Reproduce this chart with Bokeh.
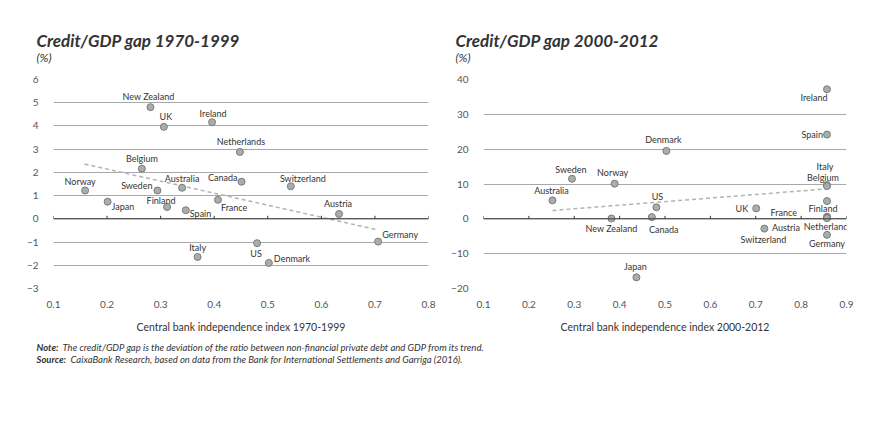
from bokeh.plotting import figure
from bokeh.models import Range1d, Label, FixedTicker, ColumnDataSource, Span
from bokeh.layouts import column, row
from bokeh.embed import file_html
from bokeh.resources import INLINE

# ---------------- data: 1970-1999 ----------------
countries_7099 = ["Norway", "Japan", "New Zealand", "UK", "Belgium", "Sweden", "Finland",
                  "Australia", "Spain", "Italy", "Ireland", "France", "Netherlands", "Canada",
                  "US", "Denmark", "Switzerland", "Austria", "Germany"]
cbi_7099 = [0.159, 0.201, 0.281, 0.306, 0.265, 0.294, 0.312,
            0.340, 0.347, 0.369, 0.396, 0.407, 0.448, 0.451,
            0.480, 0.502, 0.543, 0.633, 0.706]
gap_7099 = [1.22, 0.74, 4.81, 3.96, 2.16, 1.22, 0.51,
            1.34, 0.37, -1.64, 4.16, 0.82, 2.88, 1.60,
            -1.05, -1.90, 1.40, 0.21, -0.98]
trend_x_7099 = [0.158, 0.706]
trend_y_7099 = [2.36, -0.48]
x_ticks_7099 = [0.1, 0.2, 0.3, 0.4, 0.5, 0.6, 0.7, 0.8]
y_ticks_7099 = [-3, -2, -1, 0, 1, 2, 3, 4, 5, 6]

# ---------------- data: 2000-2012 ----------------
countries_0012 = ["Australia", "Sweden", "Norway", "New Zealand", "Japan", "US", "Canada",
                  "Denmark", "UK", "Switzerland", "Ireland", "Spain", "Italy", "Belgium",
                  "Finland", "France", "Netherlands", "Austria", "Germany"]
cbi_0012 = [0.252, 0.295, 0.389, 0.382, 0.437, 0.481, 0.471,
            0.503, 0.701, 0.719, 0.857, 0.857, 0.857, 0.857,
            0.857, 0.857, 0.857, 0.857, 0.857]
gap_0012 = [5.3, 11.5, 10.1, 0.1, -16.8, 3.3, 0.5,
            19.5, 3.0, -2.8, 37.2, 24.2, 9.7, 9.4,
            5.1, 0.6, 0.4, 0.2, -4.6]
trend_x_0012 = [0.252, 0.857]
trend_y_0012 = [2.4, 8.6]
x_ticks_0012 = [0.1, 0.2, 0.3, 0.4, 0.5, 0.6, 0.7, 0.8, 0.9]
y_ticks_0012 = [-20, -10, 0, 10, 20, 30, 40]

titles = ["Credit/GDP gap 1970-1999", "Credit/GDP gap 2000-2012"]
x_titles = ["Central bank independence index 1970-1999", "Central bank independence index 2000-2012"]
unit = "(%)"
note_head = "Note:"
note_text = "The credit/GDP gap is the deviation of the ratio between non-financial private debt and GDP from its trend."
source_head = "Source:"
source_text = "CaixaBank Research, based on data from the Bank for International Settlements and Garriga (2016)."

# ---------------- label placement (screen px) ----------------
lab_7099 = {
    "New Zealand": ("center", -2, -11), "UK": ("center", 2, -10), "Ireland": ("center", 1, -9),
    "Netherlands": ("center", 1, -10), "Belgium": ("center", 0, -10), "Norway": ("center", -5, -9),
    "Sweden": ("right", -5, -5), "Australia": ("center", 0, -9), "Canada": ("right", -4, -4),
    "Switzerland": ("center", 12, -8), "Japan": ("left", 4, 5), "Finland": ("center", -6, -6),
    "Spain": ("left", 4, 3), "France": ("left", 3, 8), "Austria": ("center", -1, -10),
    "Germany": ("left", 4, -7), "Italy": ("center", 0, -9), "US": ("center", -1, 10),
    "Denmark": ("left", 5, -4),
}
lab_0012 = {
    "Ireland": ("center", -13, 8), "Spain": ("right", -4, 0), "Italy": ("center", -2, -19),
    "Belgium": ("center", -4, -9), "Finland": ("center", -4, 7), "France": ("right", -30, -4),
    "Netherlands": ("center", 1, 9), "Austria": ("right", -27, 9), "Germany": ("center", 0, 9),
    "Sweden": ("center", -1, -9), "Norway": ("center", -2, -11), "Australia": ("center", -1, -10),
    "Denmark": ("center", -3, -11), "US": ("center", 1, -11), "New Zealand": ("center", 0, 10),
    "Canada": ("center", 12, 12), "Japan": ("center", -1, -11), "UK": ("right", -8, 0),
    "Switzerland": ("center", -1, 11),
}

FONT = "Lato"
DARK = "#333333"
W, H = 889, 421
HEAD_H, CHART_H = 70, 265


def strip(height):
    s = figure(width=W, height=height, output_backend="svg", toolbar_location=None,
               x_range=Range1d(0, W), y_range=Range1d(height, 0),
               min_border_left=0, min_border_right=0, min_border_top=0, min_border_bottom=0)
    s.axis.visible = False
    s.grid.visible = False
    s.outline_line_color = None
    return s


def make_chart(names, xs, ys, tx, ty, xticks, yticks, labels, xtitle,
               width, b_left, b_right, tick_len):
    p = figure(width=width, height=CHART_H, output_backend="svg", toolbar_location=None,
               x_range=Range1d(xticks[0], xticks[-1]), y_range=Range1d(yticks[0], yticks[-1]),
               min_border_left=b_left, min_border_right=b_right, min_border_top=9,
               min_border_bottom=45)
    p.outline_line_color = None

    p.xaxis.ticker = FixedTicker(ticks=xticks)
    p.yaxis.ticker = FixedTicker(ticks=yticks)
    for ax in (p.xaxis, p.yaxis):
        ax.axis_line_color = None
        ax.major_tick_line_color = None
        ax.minor_tick_line_color = None
        ax.major_label_text_font = FONT
        ax.major_label_text_font_size = "10px"
        ax.major_label_text_color = "#555555"
    p.xaxis.major_label_standoff = 6
    p.yaxis.major_label_standoff = 9
    p.xaxis.axis_label = xtitle
    p.xaxis.axis_label_text_font = FONT
    p.xaxis.axis_label_text_font_size = "10.5px"
    p.xaxis.axis_label_text_font_style = "normal"
    p.xaxis.axis_label_text_color = DARK
    p.xaxis.axis_label_standoff = 10

    p.xgrid.grid_line_color = None
    p.ygrid.ticker = FixedTicker(ticks=yticks)
    p.ygrid.grid_line_color = "#a8a8a8"
    p.ygrid.grid_line_width = 1

    p.add_layout(Span(location=0, dimension="width", line_color=DARK, line_width=1))
    p.segment(x0=xticks, y0=[0] * len(xticks), x1=xticks, y1=[tick_len] * len(xticks),
              line_color=DARK, line_width=1)

    p.line(tx, ty, line_color="#b3b3b3", line_width=1.5, line_dash="4 3")

    src = ColumnDataSource(dict(
        x=xs, y=ys, name=names,
        align=[labels[n][0] for n in names],
        dx=[labels[n][1] for n in names],
        dy=[labels[n][2] for n in names],
    ))
    p.scatter("x", "y", source=src, size=7, fill_color="#a9aeac", line_color="#787d7b",
              line_width=1)
    p.text("x", "y", text="name", source=src, text_align="align", text_baseline="middle",
           x_offset="dx", y_offset="dy", text_font_size="9px", text_color=DARK,
           text_font={"value": FONT})
    return p


# ---------------- header strip (titles) ----------------
head = strip(HEAD_H)
for txt, xx in zip(titles, [36, 455]):
    head.add_layout(Label(x=xx, y=40, text=txt, text_font=FONT, text_font_style="bold italic",
                          text_font_size="17px", text_color=DARK, text_baseline="middle"))
    head.add_layout(Label(x=xx, y=57, text=unit, text_font=FONT, text_font_style="italic",
                          text_font_size="12px", text_color=DARK, text_baseline="middle"))

p1 = make_chart(countries_7099, cbi_7099, gap_7099, trend_x_7099, trend_y_7099,
                x_ticks_7099, y_ticks_7099, lab_7099, x_titles[0],
                445, 53, 17, 0.13)
p2 = make_chart(countries_0012, cbi_0012, gap_0012, trend_x_0012, trend_y_0012,
                x_ticks_0012, y_ticks_0012, lab_0012, x_titles[1],
                444, 38, 43, 0.85)

# ---------------- notes strip ----------------
notes = strip(H - HEAD_H - CHART_H)
for txt, style, xx, yy in [(note_head, "bold italic", 36, 12), (note_text, "italic", 62, 12),
                           (source_head, "bold italic", 36, 24), (source_text, "italic", 70, 24)]:
    notes.add_layout(Label(x=xx, y=yy, text=txt, text_font=FONT, text_font_style=style,
                           text_font_size="9.5px", text_color=DARK, text_baseline="middle"))

layout = column(head, row(p1, p2), notes)
open("out.html", "w").write(file_html(layout, INLINE))
